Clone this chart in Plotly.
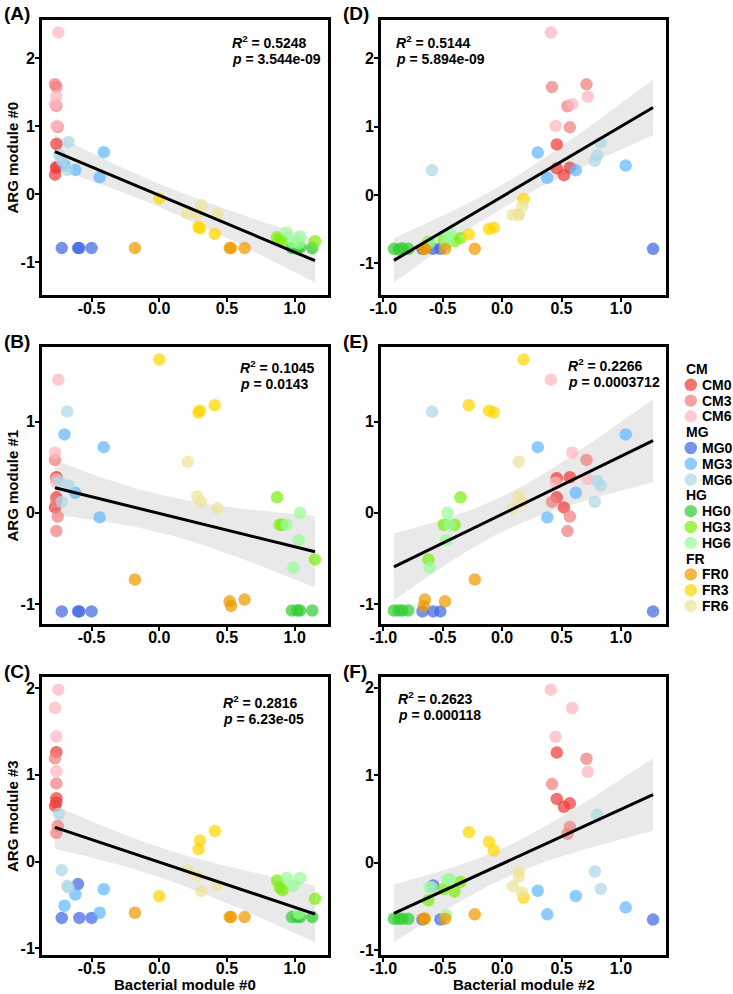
import numpy as np
import plotly.graph_objects as go

# sample groups (4 replicates each)
groups = ['CM0', 'CM3', 'CM6', 'MG0', 'MG3', 'MG6', 'HG0', 'HG3', 'HG6', 'FR0', 'FR3', 'FR6']
group_colors = ['#EE3B3B', '#F08080', '#FFB6C1', '#4169E1', '#63B8FF', '#ADD8E6',
                '#32CD32', '#7CEE10', '#98FB98', '#EE9A00', '#FFD700', '#EEE39A']

# Bacterial module #0 (x of left column)
bact0 = [-0.76, -0.76, -0.77, -0.76,  -0.76, -0.77, -0.76, -0.75,  -0.745, -0.76, -0.77, -0.76,
         -0.72, -0.60, -0.59, -0.50,  -0.70, -0.62, -0.44, -0.41,  -0.68, -0.67, -0.74, -0.72,
         0.98, 1.02, 1.04, 1.13,  0.87, 0.89, 0.91, 1.15,  0.94, 0.99, 1.04, 1.03,
         -0.18, 0.52, 0.53, 0.63,  0.00, 0.29, 0.30, 0.41,  0.21, 0.28, 0.31, 0.43]
# Bacterial module #2 (x of right column)
bact2 = [0.46, 0.46, 0.52, 0.57,  0.42, 0.71, 0.55, 0.57,  0.41, 0.72, 0.59, 0.45,
         -0.67, -0.58, -0.52, 1.27,  1.04, 0.62, 0.38, 0.30,  -0.59, 0.83, 0.80, 0.78,
         -0.91, -0.87, -0.84, -0.79,  -0.35, -0.49, -0.40, -0.62,  -0.44, -0.61, -0.46, -0.47,
         -0.23, -0.48, -0.66, -0.65,  0.18, -0.07, -0.11, -0.28,  0.14, 0.14, 0.17, 0.09]
# ARG modules
arg0 = [0.74, 0.39, 0.29, 0.40,  1.58, 1.62, 1.30, 0.99,  2.38, 1.44, 1.33, 1.01,
        -0.79, -0.79, -0.79, -0.79,  0.43, 0.36, 0.25, 0.62,  0.36, 0.77, 0.58, 0.50,
        -0.79, -0.80, -0.78, -0.79,  -0.63, -0.66, -0.68, -0.69,  -0.56, -0.70, -0.62, -0.72,
        -0.79, -0.79, -0.79, -0.79,  -0.06, -0.48, -0.50, -0.58,  -0.28, -0.29, -0.16, -0.29]
arg1 = [0.38, 0.17, 0.06, 0.39,  0.12, 0.58, -0.20, -0.04,  1.46, 0.37, 0.66, 0.33,
        -1.08, -1.08, -1.08, -1.08,  0.86, 0.22, -0.05, 0.72,  1.11, 0.30, 0.35, 0.12,
        -1.07, -1.07, -1.07, -1.07,  0.17, -0.13, -0.13, -0.51,  -0.13, -0.60, 0.00, -0.30,
        -0.73, -0.97, -1.02, -0.95,  1.68, 1.10, 1.12, 1.18,  0.56, 0.18, 0.12, 0.05]
arg3 = [1.26, 0.73, 0.64, 0.68,  0.90, 1.19, 0.33, 0.41,  1.98, 1.04, 1.77, 1.44,
        -0.65, -0.26, -0.65, -0.65,  -0.51, -0.38, -0.59, -0.32,  -0.28, -0.30, 0.55, -0.10,
        -0.64, -0.64, -0.64, -0.64,  -0.22, -0.30, -0.33, -0.43,  -0.19, -0.28, -0.19, -0.60,
        -0.59, -0.64, -0.64, -0.64,  -0.40, 0.14, 0.24, 0.35,  -0.10, -0.16, -0.34, -0.27]

stats_r2 = ['0.5248', '0.1045', '0.2816', '0.5144', '0.2266', '0.2623']
stats_p = ['3.544e-09', '0.0143', '6.23e-05', '5.894e-09', '0.0003712', '0.000118']

x_ticks_left = [-0.5, 0.0, 0.5, 1.0]
x_ticks_right = [-1.0, -0.5, 0.0, 0.5, 1.0]
y_ticks_big = [-1, 0, 1, 2]
y_ticks_small = [-1, 0, 1]

FONT = 'Liberation Sans, Arial, sans-serif'
W, H = 733, 994
OPAC = 0.72

# panel geometry in pixels (left, right, top, bottom)
col_px = [(42, 328), (381, 666)]
row_px = [(20, 295), (347, 624), (677, 955)]

panels = [
    # label, x, y, col, row, y ticks, stat text position (px)
    ('A', bact0, arg0, 0, 0, y_ticks_big, (230, 42)),
    ('B', bact0, arg1, 0, 1, y_ticks_small, (238, 367)),
    ('C', bact0, arg3, 0, 2, y_ticks_big, (221, 702)),
    ('D', bact2, arg0, 1, 0, y_ticks_big, (394, 42)),
    ('E', bact2, arg1, 1, 1, y_ticks_small, (566, 365)),
    ('F', bact2, arg3, 1, 2, y_ticks_big, (396, 698)),
]
y_titles = ['ARG module #0', 'ARG module #1', 'ARG module #3']
x_titles = ['Bacterial module #0', 'Bacterial module #2']


def fit_band(x, y):
    x = np.asarray(x)
    y = np.asarray(y)
    n = len(x)
    b, a = np.polyfit(x, y, 1)
    xs = np.linspace(x.min(), x.max(), 80)
    yh = a + b * xs
    s = np.sqrt(np.sum((y - (a + b * x)) ** 2) / (n - 2))
    se = s * np.sqrt(1 / n + (xs - x.mean()) ** 2 / np.sum((x - x.mean()) ** 2))
    t = 2.013
    return xs, yh, yh - t * se, yh + t * se


def px_x(v):
    return v / W


def px_y(v):
    return 1 - v / H


fig = go.Figure()
grp_idx = np.repeat(np.arange(len(groups)), 4)

for k, (lab, xv, yv, col, row, yt, spos) in enumerate(panels):
    ax = '' if k == 0 else str(k + 1)
    xa, ya = 'x' + ax, 'y' + ax
    xs, yh, lo, hi = fit_band(xv, yv)

    fig.add_trace(go.Scatter(x=np.concatenate([xs, xs[::-1]]), y=np.concatenate([hi, lo[::-1]]),
                             fill='toself', fillcolor='rgba(200,200,200,0.4)', line=dict(width=0),
                             mode='lines', hoverinfo='skip', showlegend=False, xaxis=xa, yaxis=ya))
    xarr, yarr = np.asarray(xv), np.asarray(yv)
    for g, name in enumerate(groups):
        m = grp_idx == g
        fig.add_trace(go.Scatter(
            x=xarr[m], y=yarr[m], mode='markers', name=name,
            marker=dict(size=12.5, color=group_colors[g], opacity=OPAC, line=dict(width=0)),
            showlegend=False, xaxis=xa, yaxis=ya))
    fig.add_trace(go.Scatter(x=xs, y=yh, mode='lines', line=dict(color='black', width=3),
                             showlegend=False, xaxis=xa, yaxis=ya))

    # ggplot-like expanded ranges
    xmin, xmax = xarr.min(), xarr.max()
    ymin, ymax = min(yarr.min(), lo.min()), max(yarr.max(), hi.max())
    dx, dy = (xmax - xmin) * 0.05, (ymax - ymin) * 0.05
    xt = x_ticks_left if col == 0 else x_ticks_right
    l, r = col_px[col]
    t_, b_ = row_px[row]
    axis_common = dict(showline=True, linecolor='black', linewidth=3, mirror=True,
                       showgrid=False, zeroline=False, ticks='outside', ticklen=4,
                       tickwidth=1.5, tickcolor='black', automargin=False,
                       tickfont=dict(family=FONT, size=16, color='black', weight='bold'))
    fig.layout['xaxis' + ax] = dict(axis_common, domain=[px_x(l), px_x(r)], anchor=ya,
                                     range=[xmin - dx, xmax + dx], tickvals=xt,
                                     ticktext=['%.1f' % v for v in xt], ticklabelstandoff=-7)
    fig.layout['yaxis' + ax] = dict(axis_common, domain=[px_y(b_), px_y(t_)], anchor=xa,
                                     range=[ymin - dy, ymax + dy], tickvals=yt,
                                     ticktext=[str(v) for v in yt], ticklabelstandoff=-3)

    fig.add_annotation(x=px_x(l - 40), y=px_y(t_ - 6), xref='paper', yref='paper',
                       text='<b>(%s)</b>' % lab, showarrow=False, xanchor='left', yanchor='middle',
                       font=dict(family=FONT, size=19, color='black'))
    sx, sy = spos
    fig.add_annotation(x=px_x(sx), y=px_y(sy), xref='paper', yref='paper',
                       text='<b><i>R</i><sup>2</sup> = %s</b>' % stats_r2[k], showarrow=False,
                       xanchor='left', yanchor='middle', font=dict(family=FONT, size=14, color='black'))
    fig.add_annotation(x=px_x(sx), y=px_y(sy + 17), xref='paper', yref='paper',
                       text='<b><i>p</i> = %s</b>' % stats_p[k], showarrow=False,
                       xanchor='left', yanchor='middle', font=dict(family=FONT, size=14, color='black'))

for row in range(3):
    t_, b_ = row_px[row]
    fig.add_annotation(x=px_x(12), y=px_y((t_ + b_) / 2), xref='paper', yref='paper',
                       text='<b>%s</b>' % y_titles[row], textangle=-90, showarrow=False,
                       xanchor='center', yanchor='middle', font=dict(family=FONT, size=15, color='black'))
for col in range(2):
    l, r = col_px[col]
    fig.add_annotation(x=px_x((l + r) / 2), y=px_y(984), xref='paper', yref='paper',
                       text='<b>%s</b>' % x_titles[col], showarrow=False,
                       xanchor='center', yanchor='middle', font=dict(family=FONT, size=15, color='black'))

# legend: group heading followed by its three levels
leg_top, leg_step = 369, 15.8
row_i = 0
for g, name in enumerate(groups):
    if name.endswith('0'):
        fig.add_annotation(x=px_x(684), y=px_y(leg_top + row_i * leg_step), xref='paper', yref='paper',
                           text='<b>%s</b>' % name[:2], showarrow=False, xanchor='left', yanchor='middle',
                           font=dict(family=FONT, size=14, color='black'))
        row_i += 1
    cy = leg_top + row_i * leg_step
    fig.add_shape(type='circle', xref='paper', yref='paper',
                  x0=px_x(684.5), x1=px_x(697), y0=px_y(cy + 6.2), y1=px_y(cy - 6.2),
                  fillcolor=group_colors[g], opacity=OPAC, line=dict(width=0))
    fig.add_annotation(x=px_x(700), y=px_y(cy), xref='paper', yref='paper',
                       text='<b>%s</b>' % name, showarrow=False, xanchor='left', yanchor='middle',
                       font=dict(family=FONT, size=14, color='black'))
    row_i += 1

fig.update_layout(
    width=W, height=H,
    margin=dict(l=0, r=0, t=0, b=0),
    paper_bgcolor='white', plot_bgcolor='white',
    font=dict(family=FONT, color='black'),
    showlegend=False,
)

# drop the browser's default page margin so the figure sits at the window origin
fig.write_html('out.html', config={'displayModeBar': False},
               post_script="document.body.style.margin='0';")
